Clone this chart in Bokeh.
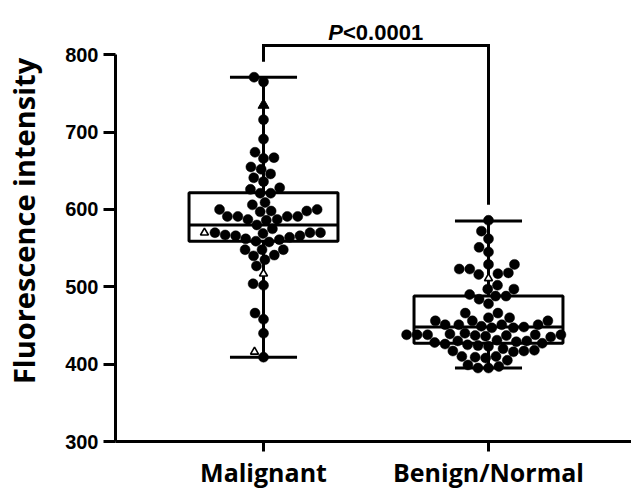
import math
import numpy as np
from bokeh.plotting import figure
from bokeh.models import Range1d, FixedTicker
from bokeh.core.properties import value
from bokeh.embed import file_html
from bokeh.resources import INLINE

# ---------------- data ----------------
categories = ["Malignant", "Benign/Normal"]
y_ticks = [300, 400, 500, 600, 700, 800]

malignant_circles = [771, 765, 716, 691, 674, 667, 666, 655, 652, 646, 641, 636,
                     628, 626, 621, 621, 609, 606, 600, 600, 598, 598, 597, 591,
                     591, 591, 591, 587, 587, 586, 580, 575, 570, 567, 566, 566,
                     564, 562, 570, 570, 569, 561, 559, 558, 548, 548, 548, 541,
                     540, 535, 527, 504, 502, 466, 458, 440, 409]
malignant_triangles_filled = [735]
malignant_triangles_open = [570, 517, 416]

benign_circles = [586, 572, 562, 551, 545, 529, 529, 523, 523, 518, 517, 516,
                  502, 497, 497, 490, 488, 488, 484, 478, 466, 466, 460, 460,
                  456, 456, 456, 451, 451, 451, 451, 449, 448, 447, 447, 440,
                  439, 438, 438, 438, 438, 438, 437, 437, 436, 435, 431, 430,
                  430, 429, 428, 427, 426, 425, 424, 423, 420, 418, 417, 417,
                  416, 410, 410, 409, 408, 405, 399, 397, 395, 395]
benign_triangles_filled = []
benign_triangles_open = [511]

box_q1 = [559, 427]
box_median = [580, 448]
box_q3 = [621.5, 488]
whisker_low = [409, 395]
whisker_high = [771, 585]

p_label_italic = "P"
p_label_rest = "<0.0001"

# ---------------- layout constants ----------------
W, H = 631, 491
LEFT, BOTTOM = 115, 48
X0, X1 = 0.3422, 2.6356
Y0, Y1 = 300, 870.2
px_x = (W - LEFT) / (X1 - X0)
px_y = (H - BOTTOM) / (Y1 - Y0)
positions = [1, 2]
BOX_HALF = 0.331
CAP_HALF = 0.149
DOT_D = 10.5  # collision distance in px


def swarm(vals, d=DOT_D):
    vals = np.asarray(vals, dtype=float)
    order = np.argsort(vals, kind="stable")
    placed = []
    offs = np.zeros(len(vals))
    for i in order:
        y = vals[i] * px_y
        neigh = [(px, py) for px, py in placed if abs(py - y) < d]
        cands = [0.0]
        for px, py in neigh:
            dx = math.sqrt(max(d * d - (py - y) ** 2, 0.0))
            cands += [px + dx, px - dx]
        cands.sort(key=lambda c: (abs(c), c))
        chosen = 0.0
        for c in cands:
            if all((c - px) ** 2 + (y - py) ** 2 >= d * d - 1e-6 for px, py in neigh):
                chosen = c
                break
        placed.append((chosen, y))
        offs[i] = chosen
    return offs / px_x


p = figure(width=W, height=H, x_range=Range1d(X0, X1), y_range=Range1d(Y0, Y1),
           output_backend="svg", toolbar_location=None,
           min_border_left=LEFT, min_border_right=0, min_border_top=0,
           min_border_bottom=BOTTOM)
p.outline_line_color = None
p.xgrid.grid_line_color = None
p.ygrid.grid_line_color = None
p.background_fill_color = "white"

# axes
ya = p.yaxis[0]
ya.ticker = FixedTicker(ticks=y_ticks)
ya.bounds = (y_ticks[0], y_ticks[-1])
ya.axis_line_width = 3
ya.major_tick_line_width = 3
ya.major_tick_out = 12
ya.major_tick_in = 0
ya.minor_tick_line_color = None
ya.major_label_text_font = "Liberation Sans"
ya.major_label_text_font_style = "bold"
ya.major_label_text_font_size = "20px"
ya.major_label_text_color = "black"
ya.major_label_standoff = 5
ya.axis_label = "Fluorescence intensity"
ya.axis_label_text_font = "Open Sans"
ya.axis_label_text_font_style = "bold"
ya.axis_label_text_font_size = "29px"
ya.axis_label_text_color = "black"
ya.axis_label_standoff = 19

xa = p.xaxis[0]
xa.ticker = FixedTicker(ticks=positions)
xa.major_label_overrides = {pos: c for pos, c in zip(positions, categories)}
xa.axis_line_width = 3
xa.major_tick_line_width = 3
xa.major_tick_out = 10
xa.major_tick_in = 0
xa.minor_tick_line_color = None
xa.major_label_text_font = "Open Sans"
xa.major_label_text_font_style = "bold"
xa.major_label_text_font_size = "25px"
xa.major_label_text_color = "black"
xa.major_label_standoff = 3

# boxes
xs = np.array(positions, dtype=float)
p.quad(left=xs - BOX_HALF, right=xs + BOX_HALF, bottom=box_q1, top=box_q3,
       fill_color=None, line_color="black", line_width=3)
p.segment(x0=xs - BOX_HALF, x1=xs + BOX_HALF, y0=box_median, y1=box_median,
          line_color="black", line_width=3)
p.segment(x0=xs, x1=xs, y0=box_q3, y1=whisker_high, line_color="black", line_width=3)
p.segment(x0=xs, x1=xs, y0=whisker_low, y1=box_q1, line_color="black", line_width=3)
p.segment(x0=xs - CAP_HALF, x1=xs + CAP_HALF, y0=whisker_high, y1=whisker_high,
          line_color="black", line_width=3)
p.segment(x0=xs - CAP_HALF, x1=xs + CAP_HALF, y0=whisker_low, y1=whisker_low,
          line_color="black", line_width=3)

# points
groups = [
    (malignant_circles, malignant_triangles_filled, malignant_triangles_open),
    (benign_circles, benign_triangles_filled, benign_triangles_open),
]
for pos, (circ, trif, trio) in zip(positions, groups):
    allv = list(circ) + list(trif) + list(trio)
    off = swarm(allv)
    n1, n2 = len(circ), len(circ) + len(trif)
    xv = pos + off
    p.scatter(x=xv[:n1], y=circ, marker="circle", size=10,
              fill_color="black", line_color="black", line_width=0.5)
    if trif:
        p.scatter(x=xv[n1:n2], y=trif, marker="triangle", size=11,
                  fill_color="black", line_color="black", line_width=1)
    if trio:
        p.scatter(x=xv[n2:], y=trio, marker="triangle", size=8,
                  fill_color="white", line_color="black", line_width=1.6)

# significance bracket
gap = 20
rise = 41
group_max = [max(malignant_circles + malignant_triangles_filled + malignant_triangles_open),
             max(benign_circles + benign_triangles_filled + benign_triangles_open)]
top = max(group_max) + rise
p.line(x=[positions[0], positions[0], positions[1], positions[1]],
       y=[group_max[0] + gap, top, top, group_max[1] + gap],
       line_color="black", line_width=3, line_join="miter")
mid = (positions[0] + positions[1]) / 2
p.text(x=[mid], y=[top], text=[p_label_italic], text_align="right",
       text_baseline="alphabetic", x_offset=-33, y_offset=-13,
       text_font=value("Liberation Sans"), text_font_style="bold italic",
       text_font_size="22px", text_color="black")
p.text(x=[mid], y=[top], text=[p_label_rest], text_align="left",
       text_baseline="alphabetic", x_offset=-33, y_offset=-13,
       text_font=value("Liberation Sans"), text_font_style="bold",
       text_font_size="22px", text_color="black")

open("out.html", "w").write(file_html(p, INLINE))
